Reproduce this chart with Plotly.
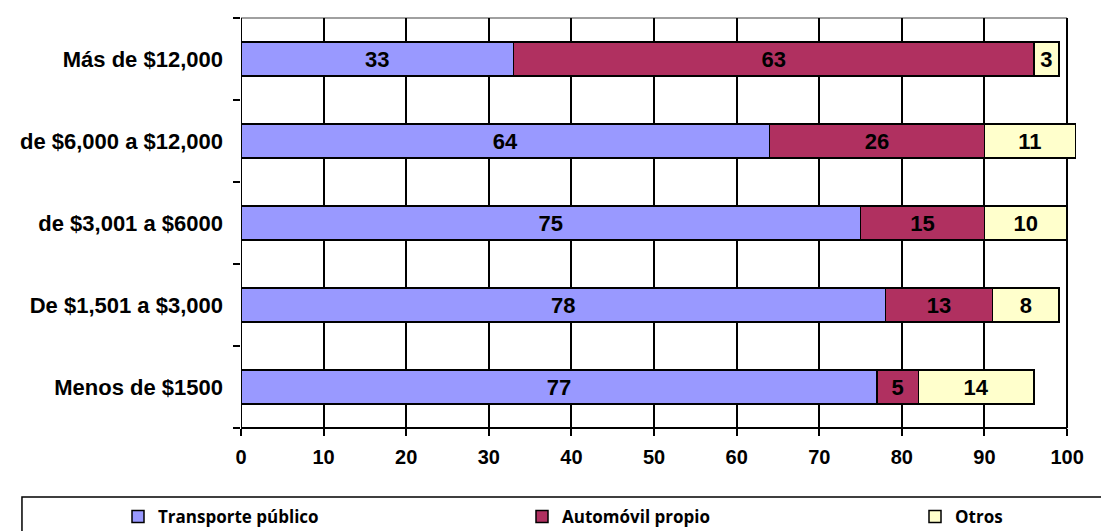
import plotly.graph_objects as go

categories = ["Menos de $1500", "De $1,501 a $3,000", "de $3,001 a $6000",
              "de $6,000 a $12,000", "Más de $12,000"]
transporte = [77, 78, 75, 64, 33]
automovil = [5, 13, 15, 26, 63]
otros = [14, 8, 10, 11, 3]
series = [("Transporte público", transporte, "#9999FF", "legend"),
          ("Automóvil propio", automovil, "#B03060", "legend2"),
          ("Otros", otros, "#FFFFCC", "legend3")]
x_ticks = list(range(0, 101, 10))

W, H = 1101, 531
fig = go.Figure()
for name, vals, col, lg in series:
    fig.add_trace(go.Bar(
        y=categories, x=vals, name=name, orientation="h", legend=lg,
        marker=dict(color=col, line=dict(color="black", width=1.5)),
        text=[str(v) for v in vals], textposition="inside",
        insidetextanchor="middle", textangle=0, constraintext="none",
        textfont=dict(family="Liberation Sans", size=22, color="black", weight="bold"),
        width=0.42,
    ))

legfont = dict(family="Open Sans", size=17, color="black", weight="bold")
def leg(xpx):
    return dict(x=xpx / W, xref="container", xanchor="left",
                y=(H - 499) / H, yref="container", yanchor="top",
                font=legfont, itemclick=False, bgcolor="rgba(0,0,0,0)")

fig.update_layout(
    barmode="stack",
    width=W, height=H,
    margin=dict(l=241, r=24, t=18, b=103, autoexpand=False),
    paper_bgcolor="white", plot_bgcolor="white",
    showlegend=True,
    legend=leg(118), legend2=leg(522), legend3=leg(915),
    xaxis=dict(range=[0, 101.2], tickvals=x_ticks, showgrid=True, gridcolor="black",
               gridwidth=1.5, zeroline=False, showline=False, ticks="outside",
               ticklen=7, tickwidth=1.5, tickcolor="black", ticklabelstandoff=4,
               tickfont=dict(family="Liberation Sans", size=20, color="black", weight="bold")),
    yaxis=dict(type="category", categoryorder="array", categoryarray=categories,
               showgrid=False, showline=False, tickson="boundaries", ticks="outside",
               ticklen=7, tickwidth=1.5, tickcolor="black", ticklabelstandoff=17,
               tickfont=dict(family="Liberation Sans", size=22, color="black", weight="bold")),
    shapes=[
        dict(type="line", xref="x", yref="paper", x0=100, x1=100, y0=0, y1=1,
             line=dict(color="#808080", width=1.5), layer="between"),
        dict(type="line", xref="x", yref="paper", x0=0, x1=100, y0=1, y1=1,
             line=dict(color="#808080", width=1.5), layer="between"),
        dict(type="line", xref="x", yref="paper", x0=0, x1=100, y0=0, y1=0,
             line=dict(color="black", width=2), layer="above"),
        dict(type="line", xref="x", yref="paper", x0=0, x1=0, y0=0, y1=1,
             line=dict(color="black", width=2), layer="above"),
        dict(type="rect", xref="paper", yref="paper", x0=-0.262, x1=1.1, y0=-0.4, y1=-0.168,
             line=dict(color="black", width=1.5), fillcolor="rgba(0,0,0,0)"),
    ],
)

fig.write_html("out.html")
